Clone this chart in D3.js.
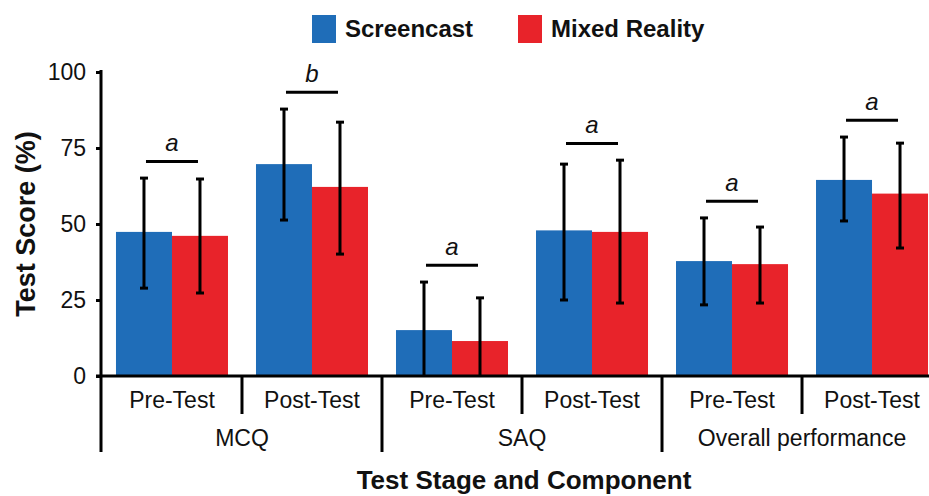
<!DOCTYPE html>
<html>
<head>
<meta charset="utf-8">
<script src="https://cdn.jsdelivr.net/npm/d3@7"></script>
<style>
  html, body { margin: 0; padding: 0; background: #fff; }
  svg { display: block; font-family: "Liberation Sans", Arial, Helvetica, sans-serif; }
</style>
</head>
<body>
<svg id="chart" width="929" height="496"></svg>
<script>
// ---- data ----
const components = ["MCQ", "SAQ", "Overall performance"];
const stages = ["Pre-Test", "Post-Test"];
const seriesNames = ["Screencast", "Mixed Reality"];
const screencast = [47.4, 69.7, 15.1, 47.9, 37.8, 64.5];
const mixedReality = [46.1, 62.2, 11.5, 47.4, 36.8, 60.0];
const screencastLow = [28.9, 51.3, 0, 25.0, 23.4, 51.0];
const screencastHigh = [65.1, 87.8, 30.9, 69.7, 52.0, 78.6];
const mixedLow = [27.3, 40.1, 0, 24.0, 24.0, 42.1];
const mixedHigh = [64.8, 83.5, 25.7, 71.0, 49.0, 76.6];
const sigLetters = ["a", "b", "a", "a", "a", "a"];
const yTicks = [0, 25, 50, 75, 100];

// ---- layout ----
const colors = ["#1f6db8", "#e8232a"];
const svg = d3.select("#chart");
const W = 929;
const x0 = 101, yBase = 376, yTop = 72;

const groups = [];
components.forEach(c => stages.forEach(s => groups.push(c + "|" + s)));

const x = d3.scaleBand().domain(groups).range([x0, 943]).paddingInner(0.2).paddingOuter(0.107);
const xs = d3.scaleBand().domain(seriesNames).range([0, x.bandwidth()]);
const y = d3.scaleLinear().domain([0, 100]).range([yBase, yTop]);

const rows = groups.map((g, i) => ({
  g, i,
  vals: [
    { s: seriesNames[0], v: screencast[i], lo: screencastLow[i], hi: screencastHigh[i] },
    { s: seriesNames[1], v: mixedReality[i], lo: mixedLow[i], hi: mixedHigh[i] }
  ]
}));

// bars
const gBars = svg.append("g");
rows.forEach(r => {
  gBars.selectAll(null).data(r.vals).enter().append("rect")
    .attr("x", d => x(r.g) + xs(d.s))
    .attr("y", d => y(d.v))
    .attr("width", xs.bandwidth())
    .attr("height", d => y(0) - y(d.v))
    .attr("fill", (d, j) => colors[j]);
});

// error bars
const capW = 8;
rows.forEach(r => {
  r.vals.forEach(d => {
    const cx = x(r.g) + xs(d.s) + xs.bandwidth() / 2;
    gBars.append("line").attr("x1", cx).attr("x2", cx)
      .attr("y1", y(d.hi)).attr("y2", y(d.lo))
      .attr("stroke", "#000").attr("stroke-width", 3);
    [d.hi, d.lo].forEach(v => {
      if (v > 0) gBars.append("line")
        .attr("x1", cx - capW / 2).attr("x2", cx + capW / 2)
        .attr("y1", y(v)).attr("y2", y(v))
        .attr("stroke", "#000").attr("stroke-width", 3);
    });
  });
});

// significance lines + letters
rows.forEach(r => {
  const top = d3.max(r.vals, d => d.hi) + 5.5;
  const cx = x(r.g) + x.bandwidth() / 2;
  const half = 26;
  svg.append("line").attr("x1", cx - half).attr("x2", cx + half)
    .attr("y1", y(top)).attr("y2", y(top))
    .attr("stroke", "#000").attr("stroke-width", 3);
  svg.append("text").attr("x", cx).attr("y", y(top) - 10)
    .attr("text-anchor", "middle").attr("font-style", "italic")
    .attr("font-size", 24).attr("fill", "#111").text(sigLetters[r.i]);
});

// y axis
const yAxis = d3.axisLeft(y).tickValues(yTicks).tickSize(5).tickPadding(10);
const gy = svg.append("g").attr("transform", `translate(${x0},0)`).call(yAxis);
gy.select(".domain").remove();
gy.selectAll(".tick line").attr("stroke", "#000").attr("stroke-width", 3);
gy.selectAll(".tick text").attr("font-size", 23).attr("fill", "#111")
  .attr("font-family", "Liberation Sans, Arial, sans-serif");
svg.append("line").attr("x1", x0).attr("x2", x0).attr("y1", yTop - 2).attr("y2", 452)
  .attr("stroke", "#000").attr("stroke-width", 3);

// x axis baseline
svg.append("line").attr("x1", x0 - 5).attr("x2", W).attr("y1", yBase).attr("y2", yBase)
  .attr("stroke", "#000").attr("stroke-width", 3);

// separators
const step = x.step();
groups.forEach((g, i) => {
  if (i === 0) return;
  const bx = x(g) - step * x.paddingInner() / 2;
  const long = (i % stages.length) === 0;
  svg.append("line").attr("x1", bx).attr("x2", bx)
    .attr("y1", yBase).attr("y2", long ? 452 : 414)
    .attr("stroke", "#000").attr("stroke-width", 3);
});

// stage labels
groups.forEach((g, i) => {
  svg.append("text").attr("x", x(g) + x.bandwidth() / 2).attr("y", 408)
    .attr("text-anchor", "middle").attr("font-size", 23).attr("fill", "#111")
    .text(stages[i % stages.length]);
});

// component labels
components.forEach((c, k) => {
  const second = x(groups[k * stages.length + 1]);
  const cx = second - step * x.paddingInner() / 2;
  svg.append("text").attr("x", cx).attr("y", 446)
    .attr("text-anchor", "middle").attr("font-size", 23).attr("fill", "#111")
    .text(c);
});

// axis titles
svg.append("text").attr("transform", "translate(35,224) rotate(-90)")
  .attr("text-anchor", "middle").attr("font-weight", "bold").attr("font-size", 27)
  .attr("fill", "#111").text("Test Score (%)");
svg.append("text").attr("x", 524).attr("y", 489)
  .attr("text-anchor", "middle").attr("font-weight", "bold").attr("font-size", 26)
  .attr("fill", "#111").text("Test Stage and Component");

// legend
const legendPos = [{ rx: 312, tx: 345 }, { rx: 518, tx: 551 }];
seriesNames.forEach((s, j) => {
  svg.append("rect").attr("x", legendPos[j].rx).attr("y", 15)
    .attr("width", 24).attr("height", 28).attr("fill", colors[j]);
  svg.append("text").attr("x", legendPos[j].tx).attr("y", 37)
    .attr("font-weight", "bold").attr("font-size", 24).attr("fill", "#111").text(s);
});
</script>
</body>
</html>
